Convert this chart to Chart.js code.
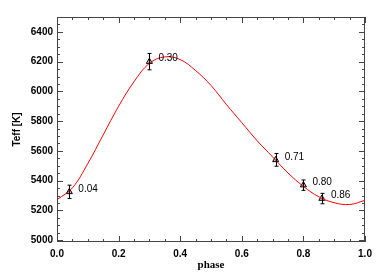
<!DOCTYPE html>
<html><head><meta charset="utf-8">
<script src="https://cdn.jsdelivr.net/npm/chart.js@4/dist/chart.umd.min.js"></script>
<style>html,body{margin:0;padding:0;background:#fff}#wrap{width:382px;height:279px}</style>
</head><body><div id="wrap"><canvas id="c" width="382" height="279"></canvas></div>
<script>
// Fitted curve
const curvePhase = [0.00,0.05,0.10,0.15,0.20,0.25,0.30,0.35,0.40,0.45,0.50,0.55,0.60,0.65,0.70,0.75,0.80,0.85,0.90,0.95,1.00];
const curveTeff  = [5272,5352,5515,5708,5900,6065,6188,6232,6214,6140,6040,5912,5790,5668,5560,5452,5362,5292,5252,5240,5268];
// Observed points
const obsPhase = [0.04,0.30,0.71,0.80,0.86];
const obsTeff  = [5325,6200,5540,5370,5280];
const obsErr   = [45,55,43,35,35];
const obsLabels = ["0.04","0.30","0.71","0.80","0.86"];
const xTicks = [0,0.2,0.4,0.6,0.8,1.0];
const yTicks = [5000,5200,5400,5600,5800,6000,6200,6400];

const axisColor = '#444';
const framePlugin = {
  id:'frame',
  afterDatasetsDraw(chart){
    const {ctx, chartArea:a, scales:{x,y}} = chart;
    ctx.save();
    // error bars
    ctx.strokeStyle='#000'; ctx.lineWidth=1;
    obsPhase.forEach((p,i)=>{
      const px = Math.round(x.getPixelForValue(p))+0.5;
      const y1 = y.getPixelForValue(obsTeff[i]-obsErr[i]);
      const y2 = y.getPixelForValue(obsTeff[i]+obsErr[i]);
      ctx.beginPath();
      ctx.moveTo(px,y1); ctx.lineTo(px,y2);
      ctx.moveTo(px-2,y1); ctx.lineTo(px+2,y1);
      ctx.moveTo(px-2,y2); ctx.lineTo(px+2,y2);
      ctx.stroke();
    });
    // labels
    ctx.fillStyle='#000'; ctx.font='10px "Liberation Sans", Arial, sans-serif';
    ctx.textBaseline='middle'; ctx.textAlign='left';
    obsPhase.forEach((p,i)=>{
      ctx.fillText(obsLabels[i], x.getPixelForValue(p)+9, y.getPixelForValue(obsTeff[i])-3);
    });
    // frame
    ctx.strokeStyle=axisColor; ctx.lineWidth=1;
    ctx.strokeRect(a.left+0.5,a.top+0.5,a.right-a.left-1,a.bottom-a.top-1);
    // ticks inward
    ctx.beginPath();
    for(let i=0;i<=20;i++){
      const v=i*0.05; const major = (i%4===0);
      const px=Math.round(x.getPixelForValue(v))+0.5;
      const L = major?6:3;
      ctx.moveTo(px,a.bottom); ctx.lineTo(px,a.bottom-L);
      ctx.moveTo(px,a.top); ctx.lineTo(px,a.top+L);
    }
    for(let v=5000; v<=6450; v+=50){
      const major = (v%200===0);
      const py=Math.round(y.getPixelForValue(v))+0.5;
      const L = major?6:3;
      ctx.moveTo(a.left,py); ctx.lineTo(a.left+L,py);
      ctx.moveTo(a.right,py); ctx.lineTo(a.right-L,py);
    }
    ctx.stroke();
    ctx.restore();
  }
};

new Chart(document.getElementById('c'),{
  type:'scatter',
  data:{datasets:[
    {type:'line', data:curvePhase.map((p,i)=>({x:p,y:curveTeff[i]})), borderColor:'#ff0000', borderWidth:1,
     pointRadius:0, tension:0.4, fill:false, clip:true},
    {data:obsPhase.map((p,i)=>({x:p,y:obsTeff[i]})), pointStyle:'triangle', pointRadius:3.5,
     borderColor:'#000', backgroundColor:'rgba(0,0,0,0.25)', borderWidth:1}
  ]},
  options:{
    responsive:false, animation:false, devicePixelRatio:1,
    layout:{padding:{left:0,right:17,top:17,bottom:0}},
    plugins:{legend:{display:false}, tooltip:{enabled:false}},
    scales:{
      x:{type:'linear', min:0, max:1,
        afterFit(s){s.height=37;},
        afterBuildTicks(s){s.ticks=xTicks.map(v=>({value:v}));},
        grid:{display:false, drawTicks:false}, border:{display:false},
        ticks:{padding:6, color:'#000', font:{family:'"Liberation Sans", Arial, sans-serif', size:10, weight:'bold'},
          callback:v=>Number(v).toFixed(1), maxRotation:0},
        title:{display:true, text:'phase', color:'#000', padding:{top:0,bottom:7},
          font:{family:'"Liberation Serif", serif', size:11, weight:'bold'}}
      },
      y:{type:'linear', min:4988, max:6500,
        afterFit(s){s.width=57;},
        afterBuildTicks(s){s.ticks=yTicks.map(v=>({value:v}));},
        grid:{display:false, drawTicks:false}, border:{display:false},
        ticks:{padding:4, color:'#000', font:{family:'"Liberation Sans", Arial, sans-serif', size:10, weight:'bold'},
          callback:v=>String(v)},
        title:{display:true, text:'Teff [K]', color:'#000', padding:{top:11,bottom:0},
          font:{family:'"Liberation Sans", Arial, sans-serif', size:10, weight:'bold'}}
      }
    }
  },
  plugins:[framePlugin]
});
</script></body></html>
